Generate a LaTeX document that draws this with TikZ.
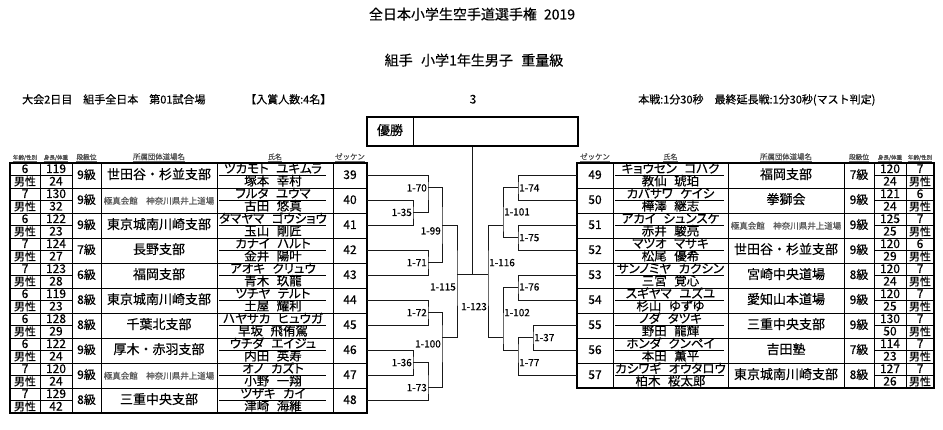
\documentclass[tikz,border=0pt]{standalone}
\usepackage{fontspec}
\setmainfont{Noto Sans CJK JP}[FakeBold=0.35]
\newfontfamily\jpp{Noto Sans CJK JP}[RawFeature=+palt, FakeBold=0.35]
\newcommand\fs[1]{\fontsize{#1}{#1}\selectfont}
\newcommand\jsp{\hspace{0.6em}}
\tikzset{
  txt/.style={inner sep=0pt, text height=0.8em, text depth=0.1em},
  num/.style={txt, font=\fs{12}},
  sex/.style={txt, font=\fs{11}},
  rank/.style={txt, font=\fs{12}},
  dojo/.style={txt, font=\fs{13}},
  nm/.style={txt, font=\jpp\fs{12.5}},
  hdr/.style={txt, text=black!70},
  lbl/.style={txt, font=\fs{10}, inner sep=1pt},
  br/.style={line width=1pt, draw=black!90},
  gridline/.style={line width=0.75pt},
  framebox/.style={line width=1.5pt},
  zek/.style={num, minimum width=34pt, minimum height=25pt}
}
\newcommand\kyk{{\fs{8.5}\color{black!65}極真会館　神奈川県井上道場}}
% left row: index, age, height, weight, rank, dojo, kana, kanji, zekken
\newcommand\Lrow[9]{%
  \pgfmathsetmacro\ry{163+25*#1}%
  \node[num] at (25,\ry+6.5) {#2};
  \node[sex] at (25,\ry+19) {男性};
  \node[num] at (56,\ry+6.5) {#3};
  \node[num] at (56,\ry+19) {#4};
  \node[rank] at (86.5,\ry+12.5) {#5};
  \node[dojo] at (159,\ry+12.5) {#6};
  \node[nm] at (273,\ry+6.5) {#7};
  \node[nm] at (273,\ry+19) {#8};
  \node[zek] (z#9) at (350,\ry+12.5) {#9};
}
% right row: index, zekken, kana, kanji, dojo, rank, height, weight, age
\newcommand\Rrow[9]{%
  \pgfmathsetmacro\ry{163+25*#1}%
  \node[zek, minimum width=36pt] (z#2) at (595,\ry+12.5) {#2};
  \node[nm] at (670.5,\ry+6.5) {#3};
  \node[nm] at (670.5,\ry+19) {#4};
  \node[dojo] at (786,\ry+12.5) {#5};
  \node[rank] at (859,\ry+12.5) {#6};
  \node[num] at (890,\ry+6.5) {#7};
  \node[num] at (890,\ry+19) {#8};
  \node[num] at (920,\ry+6.5) {#9};
  \node[sex] at (920,\ry+19) {男性};
}
\begin{document}
\begin{tikzpicture}[x=1pt,y=-1pt]
\useasboundingbox (0,0) rectangle (943,430);
\fill[white] (0,0) rectangle (943,430);

% headings
\node[txt, font=\fs{14}] (title) at (472,16) {全日本小学生空手道選手権\hspace{0.5em}2019};
\node[txt, font=\fs{14}] (sub) at (474,62) {組手\hspace{0.6em}小学1年生男子\hspace{0.6em}重量級};
\node[txt, font=\fs{11}, anchor=west] (info) at (22,100) {大会2日目　組手全日本　第01試合場};
\node[txt, font=\fs{11}, anchor=west] (prize) at (245,100) {【入賞人数:4名】};
\node[txt, font=\fs{12}] (cnt) at (473,100) {3};
\node[txt, font=\fs{11}, anchor=west] (rule) at (638,100) {本戦:1分30秒　最終延長戦:1分30秒(マスト判定)};

% winner box
\node[draw, line width=1.2pt, minimum width=211pt, minimum height=29pt, inner sep=0pt] (champ) at (472.5,131.5) {};
\draw[line width=1pt] (413,117) -- (413,146);
\node[txt, font=\fs{13}] (yusho) at (390,131.5) {優勝};

% column headers (underlined)
\foreach \x/\s/\t [count=\i] in {25/5.5/{年齢/性別}, 56/5.5/{身長/体重}, 86.5/6.7/{段級位}, 159/7.4/{所属団体道場名}, 275/7/{氏名}, 350/7.5/{ゼッケン},
                   595/7.5/{ゼッケン}, 670.5/7/{氏名}, 786/7.4/{所属団体道場名}, 859/6.7/{段級位}, 890/5.5/{身長/体重}, 920/5.5/{年齢/性別}} {
  \node[hdr, font=\fs{\s}] (h\i) at (\x,156) {\t};
  \draw[black!60, line width=0.4pt] ([yshift=-1pt]h\i.south west) -- ([yshift=-1pt]h\i.south east);
}

% left table grid
\foreach \k in {1,...,9} \draw[gridline] (10,163+25*\k) -- (367,163+25*\k);
\foreach \x in {40,72,101,217,333} \draw[gridline] (\x,163) -- (\x,413);
\foreach \k in {0,...,9} {
  \draw[gridline] (10,175.5+25*\k) -- (72,175.5+25*\k);
  \draw[gridline] (219,175.5+25*\k) -- (326,175.5+25*\k);
}
\draw[framebox] (10,163) rectangle (367,413);

% right table grid
\foreach \k in {1,...,8} \draw[gridline] (577,163+25*\k) -- (934,163+25*\k);
\foreach \x in {613,728,844,874,906} \draw[gridline] (\x,163) -- (\x,388);
\foreach \k in {0,...,8} {
  \draw[gridline] (874,175.5+25*\k) -- (934,175.5+25*\k);
  \draw[gridline] (615,175.5+25*\k) -- (724,175.5+25*\k);
}
\draw[framebox] (577,163) rectangle (934,388);

% left rows
\Lrow{0}{6}{119}{24}{9級}{世田谷・杉並支部}{ツカモト\jsp ユキムラ}{塚本\jsp 幸村}{39}
\Lrow{1}{7}{130}{32}{9級}{\kyk}{フルタ\jsp ユウマ}{古田\jsp 悠真}{40}
\Lrow{2}{6}{122}{23}{9級}{東京城南川崎支部}{タマヤマ\jsp ゴウショウ}{玉山\jsp 剛匠}{41}
\Lrow{3}{7}{124}{27}{7級}{長野支部}{カナイ\jsp ハルト}{金井\jsp 陽叶}{42}
\Lrow{4}{7}{123}{28}{6級}{福岡支部}{アオキ\jsp クリュウ}{青木\jsp 玖龍}{43}
\Lrow{5}{6}{119}{23}{8級}{東京城南川崎支部}{ツチヤ\jsp テルト}{土屋\jsp 耀利}{44}
\Lrow{6}{6}{128}{29}{8級}{千葉北支部}{ハヤサカ\jsp ヒュウガ}{早坂\jsp 飛侑駕}{45}
\Lrow{7}{6}{122}{24}{9級}{厚木・赤羽支部}{ウチダ\jsp エイジュ}{内田\jsp 英寿}{46}
\Lrow{8}{7}{120}{24}{9級}{\kyk}{オノ\jsp カズト}{小野\jsp 一翔}{47}
\Lrow{9}{7}{129}{42}{8級}{三重中央支部}{ツザキ\jsp カイ}{津崎\jsp 海維}{48}

% right rows
\Rrow{0}{49}{キョウセン\jsp コハク}{教仙\jsp 琥珀}{福岡支部}{7級}{120}{24}{7}
\Rrow{1}{50}{カバサワ\jsp ケイシ}{樺澤\jsp 継志}{拳獅会}{9級}{121}{24}{6}
\Rrow{2}{51}{アカイ\jsp シュンスケ}{赤井\jsp 駿亮}{\kyk}{9級}{125}{25}{7}
\Rrow{3}{52}{マツオ\jsp マサキ}{松尾\jsp 優希}{世田谷・杉並支部}{9級}{120}{29}{6}
\Rrow{4}{53}{サンノミヤ\jsp カクシン}{三宮\jsp 覚心}{宮崎中央道場}{8級}{120}{24}{7}
\Rrow{5}{54}{スギヤマ\jsp ユズユ}{杉山\jsp ゆずゆ}{愛知山本道場}{9級}{120}{25}{7}
\Rrow{6}{55}{ノダ\jsp タツキ}{野田\jsp 龍輝}{三重中央支部}{9級}{130}{50}{7}
\Rrow{7}{56}{ホンダ\jsp クンペイ}{本田\jsp 薫平}{吉田塾}{7級}{114}{23}{7}
\Rrow{8}{57}{カシワギ\jsp オウタロウ}{柏木\jsp 桜太郎}{東京城南川崎支部}{8級}{127}{26}{7}

% bracket points (left)
\coordinate (m35) at (413,212.5);
\coordinate (m70) at (428,188);
\coordinate (m71) at (428,262.7);
\coordinate (m99) at (442,225.7);
\coordinate (m72) at (428,312.7);
\coordinate (m36) at (413,362.7);
\coordinate (m73) at (428,387.7);
\coordinate (m100) at (442,337.7);
\coordinate (m115) at (457,275);
% bracket points (right)
\coordinate (m74) at (518,188);
\coordinate (m75) at (518,237.7);
\coordinate (m101) at (503,225.7);
\coordinate (m76) at (518,287.3);
\coordinate (m37) at (533,337.7);
\coordinate (m77) at (518,350.7);
\coordinate (m102) at (503,337.7);
\coordinate (m116) at (488,275);

% left bracket
\draw[br] (z40.east) -| (m35) |- (z41.east);
\draw[br] (z39.east) -| (m70) |- (m35);
\draw[br] (z42.east) -| (m71) |- (z43.east);
\draw[br] (m70) -| (m99) |- (m71);
\draw[br] (z44.east) -| (m72) |- (z45.east);
\draw[br] (z46.east) -| (m36) |- (z47.east);
\draw[br] (m36) -| (m73) |- (z48.east);
\draw[br] (m72) -| (m100) |- (m73);
\draw[br] (m99) -| (m115) |- (m100);
% right bracket
\draw[br] (z49.west) -| (m74) |- (z50.west);
\draw[br] (z51.west) -| (m75) |- (z52.west);
\draw[br] (m74) -| (m101) |- (m75);
\draw[br] (z53.west) -| (m76) |- (z54.west);
\draw[br] (z55.west) -| (m37) |- (z56.west);
\draw[br] (m37) -| (m77) |- (z57.west);
\draw[br] (m76) -| (m102) |- (m77);
\draw[br] (m101) -| (m116) |- (m102);
% final
\draw[br] (m115) -- (m116);
\draw[br] (champ.south) -- (champ.south |- m115);

% match labels
\node[lbl, anchor=east] (l70) at (428,188) {1-70};
\node[lbl, anchor=east] (l35) at (413,212.5) {1-35};
\node[lbl, anchor=east] (l71) at (428,262.7) {1-71};
\node[lbl, anchor=east] (l99) at (442,231) {1-99};
\node[lbl, anchor=east] (l72) at (428,312.7) {1-72};
\node[lbl, anchor=east] (l36) at (413,362.7) {1-36};
\node[lbl, anchor=east] (l73) at (428,387.7) {1-73};
\node[lbl, anchor=east] (l100) at (442,344) {1-100};
\node[lbl, anchor=east] (l115) at (457,287) {1-115};
\node[lbl, anchor=east] (l123) at (488,306.7) {1-123};
\node[lbl, anchor=west] (l74) at (518,188) {1-74};
\node[lbl, anchor=west] (l75) at (518,237.7) {1-75};
\node[lbl, anchor=west] (l101) at (503,212) {1-101};
\node[lbl, anchor=west] (l116) at (488,262.7) {1-116};
\node[lbl, anchor=west] (l76) at (518,287) {1-76};
\node[lbl, anchor=west] (l37) at (533,337.7) {1-37};
\node[lbl, anchor=west] (l77) at (518,362.7) {1-77};
\node[lbl, anchor=west] (l102) at (503,312.7) {1-102};
\end{tikzpicture}
\end{document}
